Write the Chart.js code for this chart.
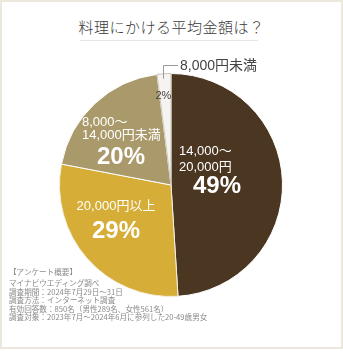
<!DOCTYPE html>
<html lang="ja">
<head>
<meta charset="utf-8">
<script src="https://cdn.jsdelivr.net/npm/chart.js@4/dist/chart.umd.min.js"></script>
<style>
    html, body { margin: 0; padding: 0; background: #fff; }
    .frame {
        position: relative;
        width: 339px;
        height: 345px;
        border: 2px solid #ece8de;
        background: #fff;
        font-family: "Noto Sans CJK JP", sans-serif;
    }
    .title {
        position: absolute;
        left: 0; right: 0; top: 14px;
        text-align: center;
        font-size: 15px;
        font-weight: 300;
        color: #3a3a3a;
        letter-spacing: 0.5px;
    }
    .rule {
        position: absolute;
        left: 78px; width: 178px; top: 38px;
        border-top: 1px solid #e6e6e6;
    }
    .pie-wrap {
        position: absolute;
        left: -2px; top: 48px;
        width: 343px; height: 252px;
    }
    .notes {
        position: absolute;
        left: 7px; top: 266px;
        font-size: 7.6px;
        line-height: 8.4px;
        color: #8a8a8a;
        white-space: nowrap;
    }
    .notes .head { margin-bottom: 3px; }
</style>
</head>
<body>
<div class="frame">
    <div class="title">料理にかける平均金額は？</div>
    <div class="rule"></div>
    <div class="pie-wrap"><canvas id="costChart"></canvas></div>
    <div class="notes">
        <div class="head">【アンケート概要】</div>
        <div>マイナビウエディング調べ</div>
        <div>調査期間：2024年7月29日～31日</div>
        <div>調査方法：インターネット調査</div>
        <div>有効回答数：850名（男性289名、女性561名）</div>
        <div>調査対象：2023年7月～2024年6月に参列した20-49歳男女</div>
    </div>
</div>
<script>
// 回答の内訳（12時から時計回り）
const categories = ['14,000～20,000円', '20,000円以上', '8,000～14,000円未満', '8,000円未満'];
const labelLines = [['14,000～', '20,000円'], ['20,000円以上'], ['8,000～', '14,000円未満'], []];
const shares = [49, 29, 20, 2];
const sliceColors = ['#4b3621', '#d5ad37', '#aa9a6b', '#f6f4f0'];

const labelFont = '"Liberation Sans Narrow", "Liberation Sans", "Noto Sans CJK JP", sans-serif';

// 各スライスの中に区分と割合を書き込む
const sliceLabels = {
    id: 'sliceLabels',
    afterDatasetsDraw(chart) {
        const ctx = chart.ctx;
        const arcs = chart.getDatasetMeta(0).data;
        ctx.save();
        ctx.fillStyle = '#fff';

        // 49%
        let a = arcs[0];
        ctx.textAlign = 'left';
        ctx.textBaseline = 'middle';
        ctx.font = `13px ${labelFont}`;
        ctx.fillText(labelLines[0][0], a.x + 8, a.y - 34);
        ctx.fillText(labelLines[0][1], a.x + 8, a.y - 18);
        ctx.font = `bold 24px ${labelFont}`;
        ctx.fillText(`${shares[0]}%`, a.x + 22, a.y + 1);

        // 29%
        a = arcs[1];
        ctx.textAlign = 'center';
        ctx.font = `13px ${labelFont}`;
        ctx.fillText(labelLines[1][0], a.x - 55, a.y + 21);
        ctx.font = `bold 24px ${labelFont}`;
        ctx.fillText(`${shares[1]}%`, a.x - 55, a.y + 46);

        // 20%
        a = arcs[2];
        ctx.textAlign = 'left';
        ctx.font = `13px ${labelFont}`;
        ctx.fillText(labelLines[2][0], a.x - 89, a.y - 63);
        ctx.fillText(labelLines[2][1], a.x - 89, a.y - 50);
        ctx.textAlign = 'center';
        ctx.font = `bold 24px ${labelFont}`;
        ctx.fillText(`${shares[2]}%`, a.x - 50, a.y - 28);

        // 2% と引き出し線
        a = arcs[3];
        const mid = (a.startAngle + a.endAngle) / 2;
        const r = a.outerRadius;
        ctx.fillStyle = '#444';
        ctx.font = `11px ${labelFont}`;
        ctx.fillText(`${shares[3]}%`, a.x + Math.cos(mid) * r * 0.8 - 2, a.y + Math.sin(mid) * r * 0.8);

        const lx = Math.round(a.x + Math.cos(mid) * r) - 1;
        const ly = a.y + Math.sin(mid) * r;
        const topY = Math.round(a.y - r - 9);
        ctx.strokeStyle = '#9a9a9a';
        ctx.lineWidth = 1;
        ctx.beginPath();
        ctx.moveTo(lx + 0.5, ly + 5);
        ctx.lineTo(lx + 0.5, topY + 0.5);
        ctx.lineTo(lx + 15, topY + 0.5);
        ctx.stroke();
        ctx.textAlign = 'left';
        ctx.fillStyle = '#444';
        ctx.font = `14px ${labelFont}`;
        ctx.fillText(categories[3], lx + 17, topY + 1);

        ctx.restore();
    }
};

new Chart(document.getElementById('costChart'), {
    type: 'pie',
    data: {
        labels: categories,
        datasets: [{
            data: shares,
            backgroundColor: sliceColors,
            borderColor: ['#fff', '#f3eedc', '#fff', '#c9c4b8'],
            borderWidth: 1
        }]
    },
    options: {
        responsive: true,
        maintainAspectRatio: false,
        animation: false,
        layout: { padding: { left: 59, right: 60, top: 23, bottom: 5 } },
        plugins: {
            legend: { display: false },
            tooltip: { enabled: false }
        }
    },
    plugins: [sliceLabels]
});
</script>
</body>
</html>
